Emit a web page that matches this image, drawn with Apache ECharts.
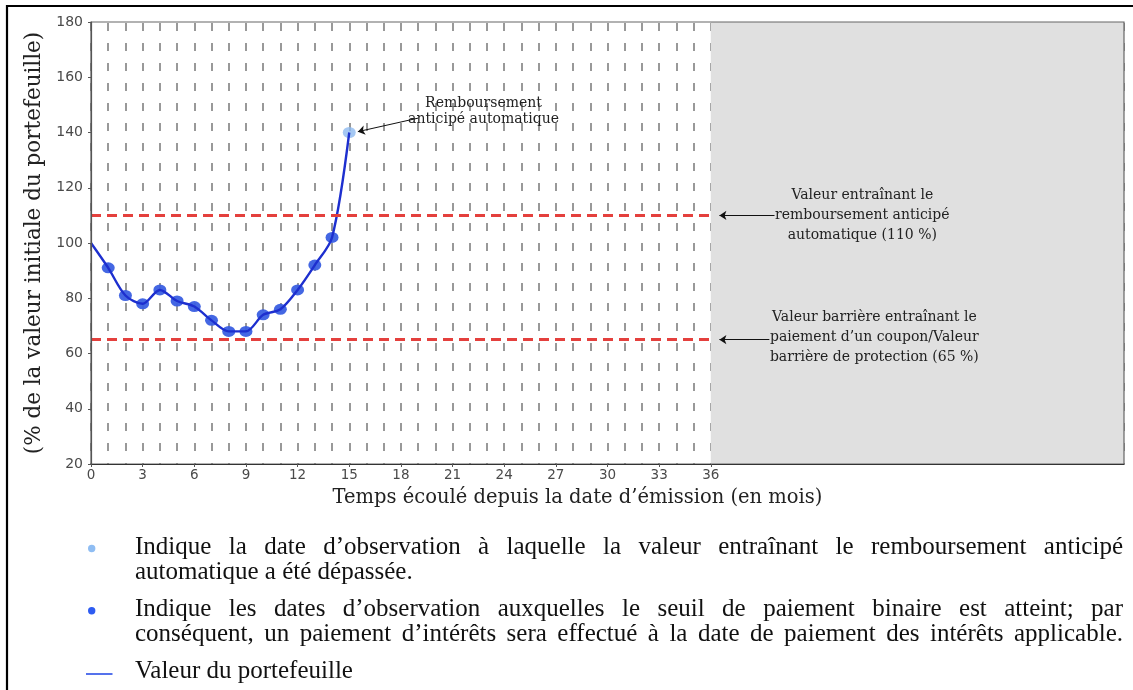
<!DOCTYPE html>
<html><head><meta charset="utf-8">
<script src="https://cdn.jsdelivr.net/npm/echarts@6/dist/echarts.min.js"></script>
<style>html,body{margin:0;padding:0;background:#fff}#c{width:1133px;height:690px}</style>
</head><body><div id="c"></div>
<script>
// ---- data ----
const months = [0,1,2,3,4,5,6,7,8,9,10,11,12,13,14,15];
const portfolioValues = [100,91,81,78,83,79,77,72,68,68,74,76,83,92,102,140];
const couponMonths = [1,2,3,4,5,6,7,8,9,10,11,12,13,14];
const autocallMonths = [15];
const autocallLevel = 110;
const barrierLevel = 65;
const termMonths = 36;
const axisEndMonths = 60;
const xTickLabels = [0,3,6,9,12,15,18,21,24,27,30,33,36];
const yTickLabels = [20,40,60,80,100,120,140,160,180];

const yTitle = '(% de la valeur initiale du portefeuille)';
const xTitle = 'Temps écoulé depuis la date d’émission (en mois)';
const noteAutocall = 'Remboursement\nanticipé automatique';
const noteAutocallLevel = 'Valeur entraînant le\nremboursement anticipé\nautomatique (110 %)';
const noteBarrier = 'Valeur barrière entraînant le\npaiement d’un coupon/Valeur\nbarrière de protection (65 %)';
const legendLines = [
  {text:'Indique la date d’observation à laquelle la valeur entraînant le remboursement anticipé', justify:true},
  {text:'automatique a été dépassée.', justify:false},
  {text:'Indique les dates d’observation auxquelles le seuil de paiement binaire est atteint; par', justify:true},
  {text:'conséquent, un paiement d’intérêts sera effectué à la date de paiement des intérêts applicable.', justify:true},
  {text:'Valeur du portefeuille', justify:false}
];

const valAt = m => portfolioValues[months.indexOf(m)];
const lineData = months.map((m,i)=>[m, portfolioValues[i]]);
const couponData = couponMonths.map(m=>[m, valAt(m)]);
const autocallData = autocallMonths.map(m=>[m, valAt(m)]);

const chart = echarts.init(document.getElementById('c'), null, {renderer:'canvas'});

const serif = '"DejaVu Serif", serif';
const legendFont = '"Liberation Serif", "Times New Roman", serif';
const legendSize = 25;
const legendScaleX = 1.0;

// justified legend text
const cv = document.createElement('canvas').getContext('2d');
const fontStr = legendSize+'px '+legendFont;
cv.font = fontStr;
const textLeft = 135, textRight = 1123;
const lineYs = [547, 572, 609, 634, 671];
const graphics = [];
legendLines.forEach((ln, i) => {
  const y = lineYs[i];
  if (!ln.justify) {
    graphics.push({type:'text', x:textLeft, y:y, scaleX:legendScaleX, style:{text:ln.text, font:fontStr, fill:'#111', verticalAlign:'middle'}});
    return;
  }
  const words = ln.text.split(' ');
  const widths = words.map(w=>cv.measureText(w).width*legendScaleX);
  const total = widths.reduce((a,b)=>a+b,0);
  const gap = (textRight - textLeft - total)/(words.length-1);
  let x = textLeft;
  words.forEach((w,k)=>{
    graphics.push({type:'text', x:x, y:y, scaleX:legendScaleX, style:{text:w, font:fontStr, fill:'#111', verticalAlign:'middle'}});
    x += widths[k] + gap;
  });
});
graphics.push({type:'circle', shape:{cx:91.7, cy:548.5, r:3.7}, style:{fill:'#8fbdf3'}});
graphics.push({type:'circle', shape:{cx:91.7, cy:610.7, r:3.7}, style:{fill:'#2e5cf2'}});
graphics.push({type:'line', shape:{x1:86, y1:674, x2:112.5, y2:674}, style:{stroke:'#2a4ee8', lineWidth:1.6}});
graphics.push({type:'rect', shape:{x:7, y:6, width:1300, height:900}, style:{fill:'none', stroke:'#000', lineWidth:2.2}, z:100});

const option = {
  animation:false,
  backgroundColor:'#fff',
  graphic: graphics,
  grid:{left:91, top:22, right:9, bottom:226, show:true, borderColor:'#666', borderWidth:1.2, backgroundColor:'transparent', z:6},
  xAxis:[{
    type:'value', min:0, max:axisEndMonths, z:6,
    axisLine:{show:true, onZero:false, lineStyle:{color:'#333', width:1.2}},
    axisTick:{show:true, length:3, customValues:xTickLabels, lineStyle:{color:'#555'}},
    axisLabel:{customValues:xTickLabels, margin:4, fontFamily:'"DejaVu Sans", sans-serif', fontSize:13.5, color:'#4a4a4a'},
    splitLine:{show:false},
    name:xTitle, nameLocation:'middle', nameGap:24,
    nameTextStyle:{fontFamily:serif, fontSize:19.5, color:'#222', verticalAlign:'top', padding:[0,60,0,0]}
  },{
    type:'value', min:0, max:axisEndMonths, interval:1, z:0,
    axisLine:{show:false}, axisTick:{show:false}, axisLabel:{show:false},
    splitLine:{show:true, lineStyle:{color:'#999', width:2, type:[8,12], dashOffset:-1}}
  }],
  yAxis:{
    type:'value', min:20, max:180, interval:20, z:6,
    axisLine:{show:true, lineStyle:{color:'#555', width:1.2}},
    axisTick:{show:true, length:3, lineStyle:{color:'#555'}},
    axisLabel:{margin:8, fontFamily:'"DejaVu Sans", sans-serif', fontSize:14, color:'#4a4a4a'},
    splitLine:{show:false},
    name:yTitle, nameLocation:'middle', nameGap:36, nameRotate:90,
    nameTextStyle:{fontFamily:serif, fontSize:21.5, color:'#222'}
  },
  series:[
    {type:'line', data:[], z:1, silent:true,
     markArea:{silent:true, itemStyle:{color:'#e0e0e0'}, data:[[{xAxis:termMonths},{xAxis:axisEndMonths}]]}},
    {type:'line', data:[], z:2, silent:true,
     markLine:{silent:true, symbol:'none', label:{show:false},
       lineStyle:{color:'#e4403d', width:2.8, type:[10,6]},
       data:[[{coord:[0,autocallLevel]},{coord:[termMonths,autocallLevel]}],
             [{coord:[0,barrierLevel]},{coord:[termMonths,barrierLevel]}]]}},
    {name:'coupon', type:'scatter', data:couponData, z:3, symbol:'circle', symbolSize:[13,11],
     itemStyle:{color:'#3a5fe2', opacity:0.95}},
    {name:'autocall', type:'scatter', data:autocallData, z:3, symbol:'circle', symbolSize:[13,11],
     itemStyle:{color:'#8fbaf0'}},
    {name:'Valeur du portefeuille', type:'line', data:lineData, z:4, smooth:0.3, showSymbol:false,
     lineStyle:{color:'#1d2fcf', width:2.4}},
    {type:'line', data:[], z:8, silent:true,
     markLine:{silent:true, symbol:['none','arrow'], symbolSize:[7,7], label:{show:false},
       lineStyle:{color:'#111', width:1, type:'solid'},
       data:[[{coord:[19.0,145.2]},{coord:[15.5,140.3]}],
             [{coord:[39.7,autocallLevel]},{coord:[36.5,autocallLevel]}],
             [{coord:[39.4,barrierLevel]},{coord:[36.5,barrierLevel]}]]},
     markPoint:{silent:true, symbol:'circle', symbolSize:0,
       label:{show:true, position:'inside', fontFamily:serif, fontSize:14, color:'#222', lineHeight:16, align:'center', verticalAlign:'middle'},
       data:[{coord:[22.8,147.5], label:{formatter:noteAutocall}},
             {coord:[44.8,autocallLevel], label:{formatter:noteAutocallLevel, lineHeight:20}},
             {coord:[45.5,barrierLevel+0.8], label:{formatter:noteBarrier, lineHeight:20}}]}}
  ]
};
chart.setOption(option);
</script></body></html>
